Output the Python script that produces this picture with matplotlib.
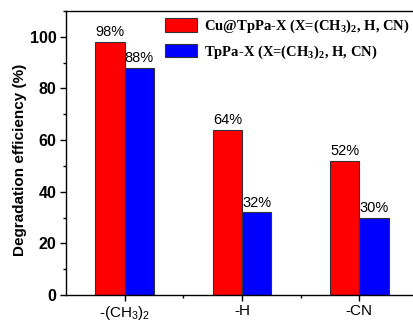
import matplotlib
matplotlib.use("Agg")
import matplotlib.pyplot as plt
from matplotlib.patches import Patch
from matplotlib.ticker import MultipleLocator, FixedLocator
import numpy as np

plt.rcParams['font.family'] = ['Liberation Sans', 'DejaVu Sans']
plt.rcParams['mathtext.fontset'] = 'custom'
plt.rcParams['mathtext.sf'] = 'Liberation Sans'
plt.rcParams['mathtext.bf'] = 'Liberation Serif:bold'
plt.rcParams['mathtext.rm'] = 'Liberation Sans'

categories = [r"-(CH$_{\mathsf{3}}$)$_{\mathsf{2}}$", "-H", "-CN"]
cu_values = [98, 64, 52]
tppa_values = [88, 32, 30]
series_names = [r"Cu@TpPa-X (X=(CH$_{\mathbf{3}}$)$_{\mathbf{2}}$, H, CN)",
                r"TpPa-X (X=(CH$_{\mathbf{3}}$)$_{\mathbf{2}}$, H, CN)"]

fig = plt.figure(figsize=(4.14, 3.22), dpi=100)
ax = fig.add_axes([66/414, 27/322, 352/414, 284/322])

x = np.arange(len(categories))
w = 0.25
b1 = ax.bar(x - w/2, cu_values, w, color='#ff0000', edgecolor='#333333', linewidth=0.8)
b2 = ax.bar(x + w/2, tppa_values, w, color='#0000ff', edgecolor='#333333', linewidth=0.8)

for bars, vals in ((b1, cu_values), (b2, tppa_values)):
    for r, v in zip(bars, vals):
        ax.annotate(f"{v}%", (r.get_x() + r.get_width()/2, v), xytext=(0, 2),
                    textcoords='offset points', ha='center', va='bottom', fontsize=10.5)

ax.set_xlim(-0.5, 2.5)
ax.set_ylim(0, 110)
ax.set_xticks(x)
ax.set_xticklabels(categories, fontsize=11)
ax.xaxis.set_minor_locator(FixedLocator([0.5, 1.5]))
ax.set_yticks([0, 20, 40, 60, 80, 100])
ax.yaxis.set_minor_locator(MultipleLocator(10))
for lab in ax.get_yticklabels():
    lab.set_fontweight('bold')
    lab.set_fontsize(11.5)
ax.tick_params(axis='both', which='major', direction='out', length=4.5, width=1)
ax.tick_params(axis='both', which='minor', direction='out', length=2.5, width=1)
ax.tick_params(axis='x', pad=2)
ax.tick_params(axis='y', pad=2.5)
ax.set_ylabel("Degradation efficiency (%)", fontsize=11, fontweight='bold')
ax.yaxis.set_label_coords(-0.112, 0.475)
for s in ax.spines.values():
    s.set_linewidth(1.0)
ax.spines['right'].set_visible(False)

handles = [Patch(facecolor='#ff0000', edgecolor='#333333', linewidth=0.8),
           Patch(facecolor='#0000ff', edgecolor='#333333', linewidth=0.8)]
fig.legend(handles, series_names, loc='upper left', bbox_to_anchor=(165/414, 1 - 18/322),
           frameon=False, borderpad=0, borderaxespad=0, handlelength=2.2, handleheight=1.05,
           handletextpad=0.45, labelspacing=0.55,
           prop={'family': 'Liberation Serif', 'weight': 'bold', 'size': 10.5})

fig.savefig("out.png", dpi=100)
